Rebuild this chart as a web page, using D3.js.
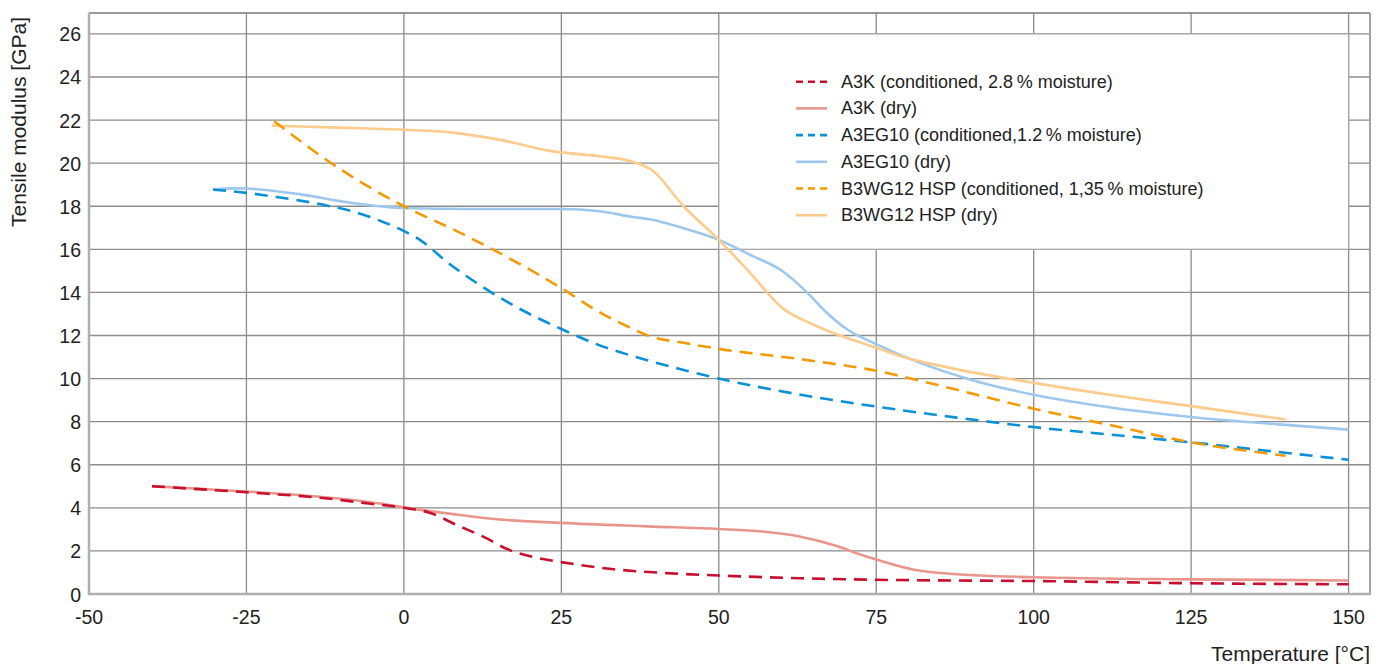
<!DOCTYPE html>
<html><head><meta charset="utf-8">
<script src="https://cdn.jsdelivr.net/npm/d3@7"></script>
<style>body{margin:0;background:#fff}svg{display:block;font-family:"Liberation Sans",Arial,Helvetica,sans-serif}</style>
</head><body><svg id="c" width="1386" height="664"></svg>
<script>
const xTicks = [-50,-25,0,25,50,75,100,125,150];
const yTicks = [0,2,4,6,8,10,12,14,16,18,20,22,24,26];
const seriesNames = ["A3K (conditioned, 2.8\u202F% moisture)","A3K (dry)","A3EG10 (conditioned,1.2\u202F% moisture)","A3EG10 (dry)","B3WG12 HSP (conditioned, 1,35\u202F% moisture)","B3WG12 HSP (dry)"];
const seriesColors = ["#c8102e","#e8968c","#0a90d8","#9dc7ec","#f39a00","#fdcb8c"];
const seriesDashed = [true,false,true,false,true,false];

const a3kCond = [[-40,5.0],[-25,4.72],[-11.7,4.42],[-5.6,4.2],[0,4.0],[4.1,3.77],[8.4,3.2],[12.6,2.66],[16.3,2.1],[20.5,1.72],[25,1.48],[32.6,1.17],[41.7,0.97],[50,0.86],[63,0.73],[75,0.66],[91,0.62],[100,0.6],[125,0.5],[150,0.45]];
const a3kDry = [[-40,5.01],[-25,4.76],[-11.7,4.47],[-3.8,4.2],[0,4.02],[8.4,3.69],[14.4,3.48],[25,3.3],[38.7,3.14],[50,3.02],[56.9,2.9],[63,2.66],[69,2.2],[72,1.88],[75,1.6],[81,1.13],[91.4,0.86],[100,0.78],[125,0.68],[150,0.63]];
const a3egCond = [[-30.3,18.77],[-25,18.62],[-20.2,18.43],[-11.7,18.0],[-7.4,17.7],[-3.2,17.26],[0,16.85],[2.6,16.43],[6.9,15.4],[12,14.35],[18,13.3],[25,12.3],[31.1,11.54],[36.4,11.04],[44.4,10.4],[50,10.0],[62,9.3],[75,8.7],[87.5,8.2],[100,7.75],[112,7.4],[125,7.04],[137,6.65],[150,6.23]];
const a3egDry = [[-30.2,18.78],[-27,18.83],[-25,18.82],[-16.4,18.55],[-8.5,18.16],[-2.7,17.97],[0,17.92],[10,17.87],[25,17.87],[31.1,17.77],[36.4,17.5],[39,17.4],[44.4,16.98],[50,16.44],[55,15.74],[60.2,14.97],[64,14.0],[67.1,13.07],[70.3,12.3],[75,11.6],[78.8,11.1],[90,9.95],[100,9.25],[110,8.75],[125,8.22],[140,7.85],[150,7.63]];
const b3wgCond = [[-20.6,21.95],[-11.7,20.03],[0,18.0],[8,16.9],[25,14.2],[31.1,13.07],[36.4,12.3],[39,11.97],[44.4,11.66],[50,11.38],[63,10.9],[75,10.36],[87.5,9.5],[100,8.6],[112,7.85],[125,7.04],[140,6.42]];
const b3wgDry = [[-21,21.74],[-11.7,21.66],[0,21.55],[7.4,21.43],[15.3,21.08],[23.2,20.57],[31.1,20.32],[36.4,20.06],[39.5,19.65],[44.4,18.0],[50,16.44],[55,14.9],[59.8,13.35],[65.6,12.43],[75,11.43],[78.8,11.05],[87.5,10.45],[100,9.8],[112,9.25],[125,8.72],[140,8.1]];
const seriesData = [a3kCond,a3kDry,a3egCond,a3egDry,b3wgCond,b3wgDry];

const svg = d3.select("#c");
const L=89, R=1370, T=13, B=594;
const x = d3.scaleLinear().domain([-50,153.4]).range([L,R]);
const y = d3.scaleLinear().domain([0,26.97]).range([B,T]);

const g = svg.append("g");
// grid
g.selectAll(".vg").data(xTicks).enter().append("line")
 .attr("x1",d=>x(d)).attr("x2",d=>x(d)).attr("y1",T).attr("y2",B)
 .attr("stroke","#8c8c8c").attr("stroke-width",1.3);
g.selectAll(".hg").data(yTicks).enter().append("line")
 .attr("x1",L).attr("x2",R).attr("y1",d=>y(d)).attr("y2",d=>y(d))
 .attr("stroke","#8c8c8c").attr("stroke-width",1.3);
// borders
g.append("line").attr("x1",L).attr("x2",R).attr("y1",T).attr("y2",T).attr("stroke","#7a7a7a").attr("stroke-width",1.5);
g.append("line").attr("x1",R).attr("x2",R).attr("y1",T).attr("y2",B).attr("stroke","#9a9a9a").attr("stroke-width",1.8);
g.append("line").attr("x1",L).attr("x2",L).attr("y1",T).attr("y2",B+1).attr("stroke","#b0b0b0").attr("stroke-width",2.5);
g.append("line").attr("x1",L-1).attr("x2",R+1).attr("y1",B).attr("y2",B).attr("stroke","#b0b0b0").attr("stroke-width",2.5);

// legend box
g.append("rect").attr("x",x(50)).attr("y",y(26)).attr("width",x(150)-x(50)).attr("height",y(16)-y(26))
 .attr("fill","#fff").attr("stroke","#a8a8a8").attr("stroke-width",1.3);

// tick labels
svg.append("g").selectAll("text").data(yTicks).enter().append("text")
 .attr("x",81).attr("y",d=>y(d)+7.5).attr("text-anchor","end").attr("font-size",19.5).attr("fill","#222").text(d=>d);
svg.append("g").selectAll("text").data(xTicks).enter().append("text")
 .attr("x",d=>x(d)).attr("y",623.5).attr("text-anchor","middle").attr("font-size",19.5).attr("fill","#222").text(d=>d);
svg.append("text").attr("transform","translate(25.5,122) rotate(-90)").attr("text-anchor","middle")
 .attr("font-size",21).attr("fill","#222").text("Tensile modulus [GPa]");
svg.append("text").attr("x",1370).attr("y",661).attr("text-anchor","end")
 .attr("font-size",21).attr("fill","#222").text("Temperature [°C]");

// lines
const line = d3.line().x(d=>x(d[0])).y(d=>y(d[1])).curve(d3.curveMonotoneX);
const order = [1,3,5,0,2,4];
order.forEach(i=>{
  svg.append("path").attr("d",line(seriesData[i])).attr("fill","none")
   .attr("stroke",seriesColors[i]).attr("stroke-width",2.6)
   .attr("stroke-dasharray",seriesDashed[i]?"13,8":null);
});

// legend
const lg = svg.append("g");
seriesNames.forEach((n,i)=>{
  const yy = 81.7 + i*26.7;
  lg.append("line").attr("x1",796).attr("x2",827).attr("y1",yy).attr("y2",yy)
   .attr("stroke",seriesColors[i]).attr("stroke-width",2.6).attr("stroke-dasharray",seriesDashed[i]?"7,5":null);
  lg.append("text").attr("x",841).attr("y",yy+6).attr("font-size",18).attr("fill","#222").text(n);
});
</script></body></html>
